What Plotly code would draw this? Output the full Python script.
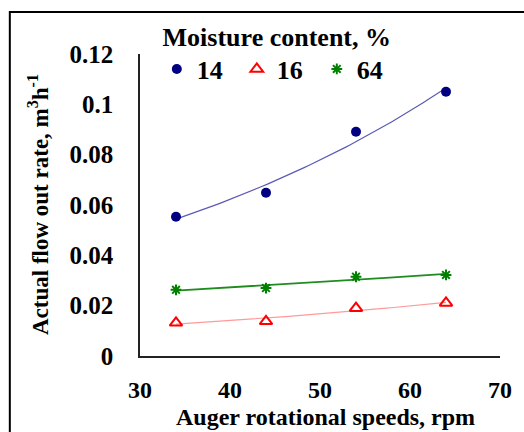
import numpy as np
import plotly.graph_objects as go

speeds = [34, 44, 54, 64]
mc_labels = ["14", "16", "64"]
flow_14 = [0.0553, 0.0649, 0.0891, 0.1050]
flow_16 = [0.0132, 0.0138, 0.0190, 0.0211]
flow_64 = [0.0263, 0.0270, 0.0315, 0.0322]

y_ticks = [0, 0.02, 0.04, 0.06, 0.08, 0.1, 0.12]
y_tick_text = ["0", "0.02", "0.04", "0.06", "0.08", "0.1", "0.12"]
x_ticks = [30, 40, 50, 60, 70]

FONT = "Liberation Serif"

def exp_trend(x, y):
    x = np.asarray(x, float)
    y = np.asarray(y, float)
    b, a = np.polyfit(x, np.log(y), 1)
    xs = np.linspace(x.min(), x.max(), 60)
    return xs, np.exp(a + b * xs)

series = [
    (flow_14, mc_labels[0], dict(symbol="circle", size=10, color="#000080"), "#5a5ab4", 1.2),
    (flow_16, mc_labels[1], dict(symbol="triangle-up-open", size=11, color="#ff0000",
                                 line=dict(width=2, color="#ff0000")), "#ff9a9a", 1.2),
    (flow_64, mc_labels[2], dict(symbol="asterisk-open", size=9, color="#008000",
                                 line=dict(width=2, color="#008000")), "#1e8c1e", 1.8),
]

fig = go.Figure()
for vals, name, marker, lcol, lw in series:
    xs, ys = exp_trend(speeds, vals)
    fig.add_trace(go.Scatter(x=xs, y=ys, mode="lines", line=dict(color=lcol, width=lw),
                             showlegend=False, hoverinfo="skip"))
for vals, name, marker, lcol, lw in series:
    fig.add_trace(go.Scatter(x=speeds, y=vals, mode="markers", name=name, marker=marker))

fig.update_layout(
    width=524, height=432,
    margin=dict(l=140, r=19, t=54, b=76),
    paper_bgcolor="white", plot_bgcolor="white",
    font=dict(family=FONT, color="black"),
    showlegend=True,
    legend=dict(
        orientation="h", x=0.38, xanchor="center", y=1.14, yanchor="top",
        title=dict(text="Moisture content, %", side="top center",
                   font=dict(family=FONT, size=26, weight="bold")),
        font=dict(family=FONT, size=26, weight="bold"),
        bgcolor="rgba(0,0,0,0)",
        itemwidth=30, tracegroupgap=0,
        entrywidth=35, entrywidthmode="pixels",
    ),
)
fig.update_xaxes(
    range=[30, 70], tickvals=x_ticks, showgrid=False, zeroline=False,
    showline=True, linecolor="#222", linewidth=1.5, ticks="",
    tickfont=dict(family=FONT, size=24, weight="bold"), ticklabelstandoff=11,
)
fig.update_yaxes(
    range=[0, 0.12], tickvals=y_ticks, ticktext=y_tick_text, showgrid=False, zeroline=False,
    showline=True, linecolor="#222", linewidth=1.5, ticks="",
    tickfont=dict(family=FONT, size=25, weight="bold"), ticklabelstandoff=20,
)
fig.add_annotation(
    text="Auger rotational speeds, rpm",
    xref="paper", yref="paper", x=0.515, y=0, xanchor="center", yanchor="middle",
    yshift=-61, showarrow=False, font=dict(family=FONT, size=24, weight="bold"),
)
fig.add_annotation(
    text="Actual flow out rate, m<sup>3</sup>h<sup>-1</sup>", textangle=-90,
    xref="paper", yref="paper", x=0, y=0.5, xanchor="center", yanchor="middle",
    xshift=-102, showarrow=False, font=dict(family=FONT, size=23, weight="bold"),
)
fig.add_shape(type="rect", xref="paper", yref="paper",
              x0=-0.3616, x1=1.3, y0=-0.5, y1=1.139,
              line=dict(color="black", width=2), fillcolor="rgba(0,0,0,0)", layer="below")

fig.write_html("out.html")
